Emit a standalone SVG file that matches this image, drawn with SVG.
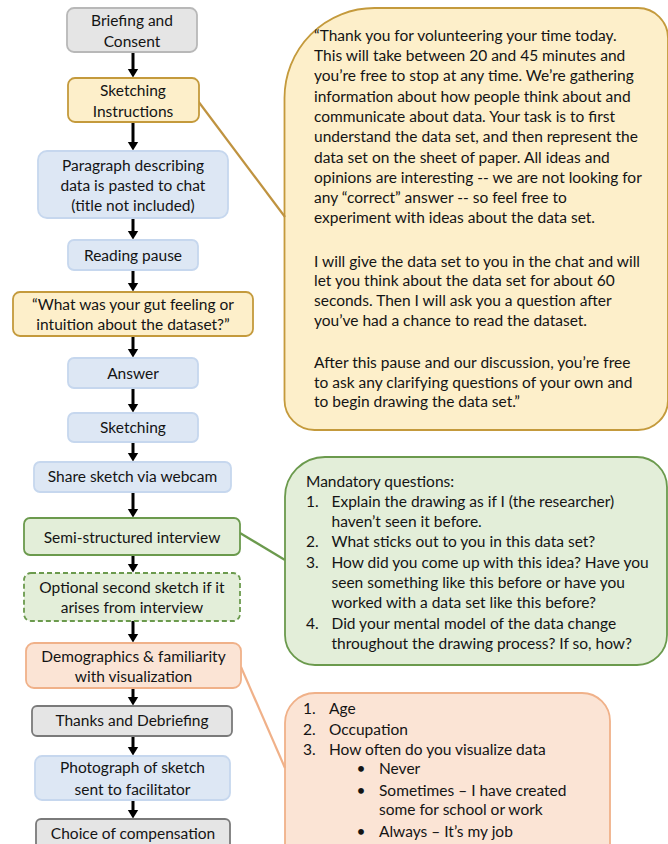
<svg xmlns="http://www.w3.org/2000/svg" width="668" height="844" viewBox="0 0 668 844">
<style>
text{font-family:Lato,"Open Sans",sans-serif;font-size:15.5px;fill:#141414}
.c{text-anchor:middle}
.gray{fill:#e5e5e5;stroke:#b8b8b8;stroke-width:1.8}
.gray2{fill:#e5e5e5;stroke:#7a7a7a;stroke-width:1.8}
.yel{fill:#fdefca;stroke:#c49a3c;stroke-width:1.8}
.blue{fill:#dde7f4;stroke:#c6d7ee;stroke-width:1.8}
.grn{fill:#e3eed9;stroke:#6b9a4d;stroke-width:1.8}
.grnd{fill:#e3eed9;stroke:#6b9a4d;stroke-width:1.8;stroke-dasharray:5 3}
.org{fill:#fbe4d5;stroke:#f0b189;stroke-width:1.8}
.arr{stroke:#000;stroke-width:3;fill:none;marker-end:url(#ah)}
.ptr{fill:none;stroke-width:2.2}
</style>
<defs>
<marker id="ah" markerUnits="userSpaceOnUse" markerWidth="10" markerHeight="12" refX="0.5" refY="6" orient="auto">
<path d="M0,0.5 L9,6 L0,11.5 z" fill="#000"/>
</marker>
</defs>

<g id="callout-instructions">
<path class="yel" d="M374.5,8 H638 A30,30 0 0 1 668,38 V400 A30,30 0 0 1 638,430 H314.5 A30,30 0 0 1 284.5,400 V98 A90,90 0 0 1 374.5,8 Z"/>
<text x="314" y="40.7">“Thank you for volunteering your time today.</text>
<text x="314" y="61">This will take between 20 and 45 minutes and</text>
<text x="314" y="81.3">you’re free to stop at any time. We’re gathering</text>
<text x="314" y="101.6">information about how people think about and</text>
<text x="314" y="121.9">communicate about data. Your task is to first</text>
<text x="314" y="142.2">understand the data set, and then represent the</text>
<text x="314" y="162.5">data set on the sheet of paper. All ideas and</text>
<text x="314" y="182.8">opinions are interesting -- we are not looking for</text>
<text x="314" y="203.1">any “correct” answer -- so feel free to</text>
<text x="314" y="223.4">experiment with ideas about the data set.</text>
<text x="314" y="266.7">I will give the data set to you in the chat and will</text>
<text x="314" y="286">let you think about the data set for about 60</text>
<text x="314" y="306">seconds. Then I will ask you a question after</text>
<text x="314" y="326">you’ve had a chance to read the dataset.</text>
<text x="314" y="367.7">After this pause and our discussion, you’re free</text>
<text x="314" y="387.7">to ask any clarifying questions of your own and</text>
<text x="314" y="406.7">to begin drawing the data set.”</text>
</g>

<g id="callout-interview">
<path class="grn" d="M325,457 H637 A30,30 0 0 1 667,487 V635 A30,30 0 0 1 637,665 H315 A30,30 0 0 1 285,635 V497 A40,40 0 0 1 325,457 Z"/>
<text x="306" y="486.7">Mandatory questions:</text>
<text x="306" y="507.3">1.</text><text x="331.5" y="507.3">Explain the drawing as if I (the researcher)</text>
<text x="331.5" y="526.7">haven’t seen it before.</text>
<text x="306" y="546.7">2.</text><text x="331.5" y="546.7">What sticks out to you in this data set?</text>
<text x="306" y="567.7">3.</text><text x="331.5" y="567.7">How did you come up with this idea? Have you</text>
<text x="331.5" y="587.7">seen something like this before or have you</text>
<text x="331.5" y="608.3">worked with a data set like this before?</text>
<text x="306" y="629">4.</text><text x="331.5" y="629">Did your mental model of the data change</text>
<text x="331.5" y="649">throughout the drawing process? If so, how?</text>
</g>

<g id="callout-demographics">
<path class="org" d="M315,693 H582 A28,28 0 0 1 610,721 V860 H285 V723 A30,30 0 0 1 315,693 Z"/>
<text x="303" y="714.3">1.</text><text x="329" y="714.3">Age</text>
<text x="303" y="735">2.</text><text x="329" y="735">Occupation</text>
<text x="303" y="755">3.</text><text x="329" y="755">How often do you visualize data</text>
<text x="356.5" y="774.3">•</text><text x="379" y="774.3">Never</text>
<text x="356.5" y="795.7">•</text><text x="379" y="795.7">Sometimes – I have created</text>
<text x="379" y="815">some for school or work</text>
<text x="356.5" y="836.7">•</text><text x="379" y="836.7">Always – It’s my job</text>
</g>

<g id="connectors">
<line class="ptr" stroke="#bf9340" x1="198" y1="101" x2="285" y2="217"/>
<line class="ptr" stroke="#6b9a4d" x1="240" y1="533" x2="285" y2="560"/>
<line class="ptr" stroke="#f0b189" x1="241" y1="667" x2="285" y2="768"/>
<line class="arr" x1="133" y1="52" x2="133" y2="69"/>
<line class="arr" x1="133" y1="122" x2="133" y2="142"/>
<line class="arr" x1="133" y1="218" x2="133" y2="231"/>
<line class="arr" x1="133" y1="270" x2="133" y2="283"/>
<line class="arr" x1="133" y1="336" x2="133" y2="349"/>
<line class="arr" x1="133" y1="388" x2="133" y2="404"/>
<line class="arr" x1="133" y1="442" x2="133" y2="453"/>
<line class="arr" x1="133" y1="492" x2="133" y2="509"/>
<line class="arr" x1="133" y1="555" x2="133" y2="564"/>
<line class="arr" x1="133" y1="621" x2="133" y2="634"/>
<line class="arr" x1="133" y1="688" x2="133" y2="697"/>
<line class="arr" x1="133" y1="736" x2="133" y2="747"/>
<line class="arr" x1="133" y1="800" x2="133" y2="810"/>
</g>

<g id="briefing"><rect class="gray" x="67" y="8" width="130" height="44" rx="7"/>
<text class="c" x="132" y="26">Briefing and</text><text class="c" x="132" y="47">Consent</text></g>
<g id="sketching-instructions"><rect class="yel" x="68" y="78" width="131" height="44" rx="7"/>
<text class="c" x="133" y="96">Sketching</text><text class="c" x="133" y="117">Instructions</text></g>
<g id="paragraph"><rect class="blue" x="38" y="151" width="190" height="67" rx="9"/>
<text class="c" x="133" y="170.5">Paragraph describing</text><text class="c" x="133" y="191">data is pasted to chat</text><text class="c" x="133" y="210.5">(title not included)</text></g>
<g id="reading-pause"><rect class="blue" x="68" y="240" width="130" height="30" rx="6"/>
<text class="c" x="133" y="261">Reading pause</text></g>
<g id="gut-feeling"><rect class="yel" x="13" y="292" width="240" height="44" rx="7"/>
<text class="c" x="133" y="309.5">“What was your gut feeling or</text><text class="c" x="133" y="329.5">intuition about the dataset?”</text></g>
<g id="answer"><rect class="blue" x="68" y="358" width="130" height="30" rx="6"/>
<text class="c" x="133" y="378.5">Answer</text></g>
<g id="sketching"><rect class="blue" x="68" y="413" width="130" height="29" rx="6"/>
<text class="c" x="133" y="432.5">Sketching</text></g>
<g id="share"><rect class="blue" x="34" y="462" width="197" height="30" rx="6"/>
<text class="c" x="132.5" y="482">Share sketch via webcam</text></g>
<g id="interview"><rect class="grn" x="24" y="518" width="216" height="37" rx="6"/>
<text class="c" x="132" y="542.5">Semi-structured interview</text></g>
<g id="optional"><rect class="grnd" x="24" y="573" width="216" height="48" rx="7"/>
<text class="c" x="132" y="593">Optional second sketch if it</text><text class="c" x="132" y="613">arises from interview</text></g>
<g id="demographics"><rect class="org" x="26" y="643" width="215" height="45" rx="8"/>
<text class="c" x="133.5" y="661.5">Demographics &amp; familiarity</text><text class="c" x="133.5" y="681.5">with visualization</text></g>
<g id="thanks"><rect class="gray2" x="32" y="706" width="200" height="30" rx="5"/>
<text class="c" x="132" y="726">Thanks and Debriefing</text></g>
<g id="photograph"><rect class="blue" x="35" y="756" width="195" height="44" rx="7"/>
<text class="c" x="132.5" y="773">Photograph of sketch</text><text class="c" x="132.5" y="794.5">sent to facilitator</text></g>
<g id="compensation"><rect class="gray2" x="36" y="819" width="194" height="40" rx="5"/>
<text class="c" x="133" y="839">Choice of compensation</text></g>
</svg>
